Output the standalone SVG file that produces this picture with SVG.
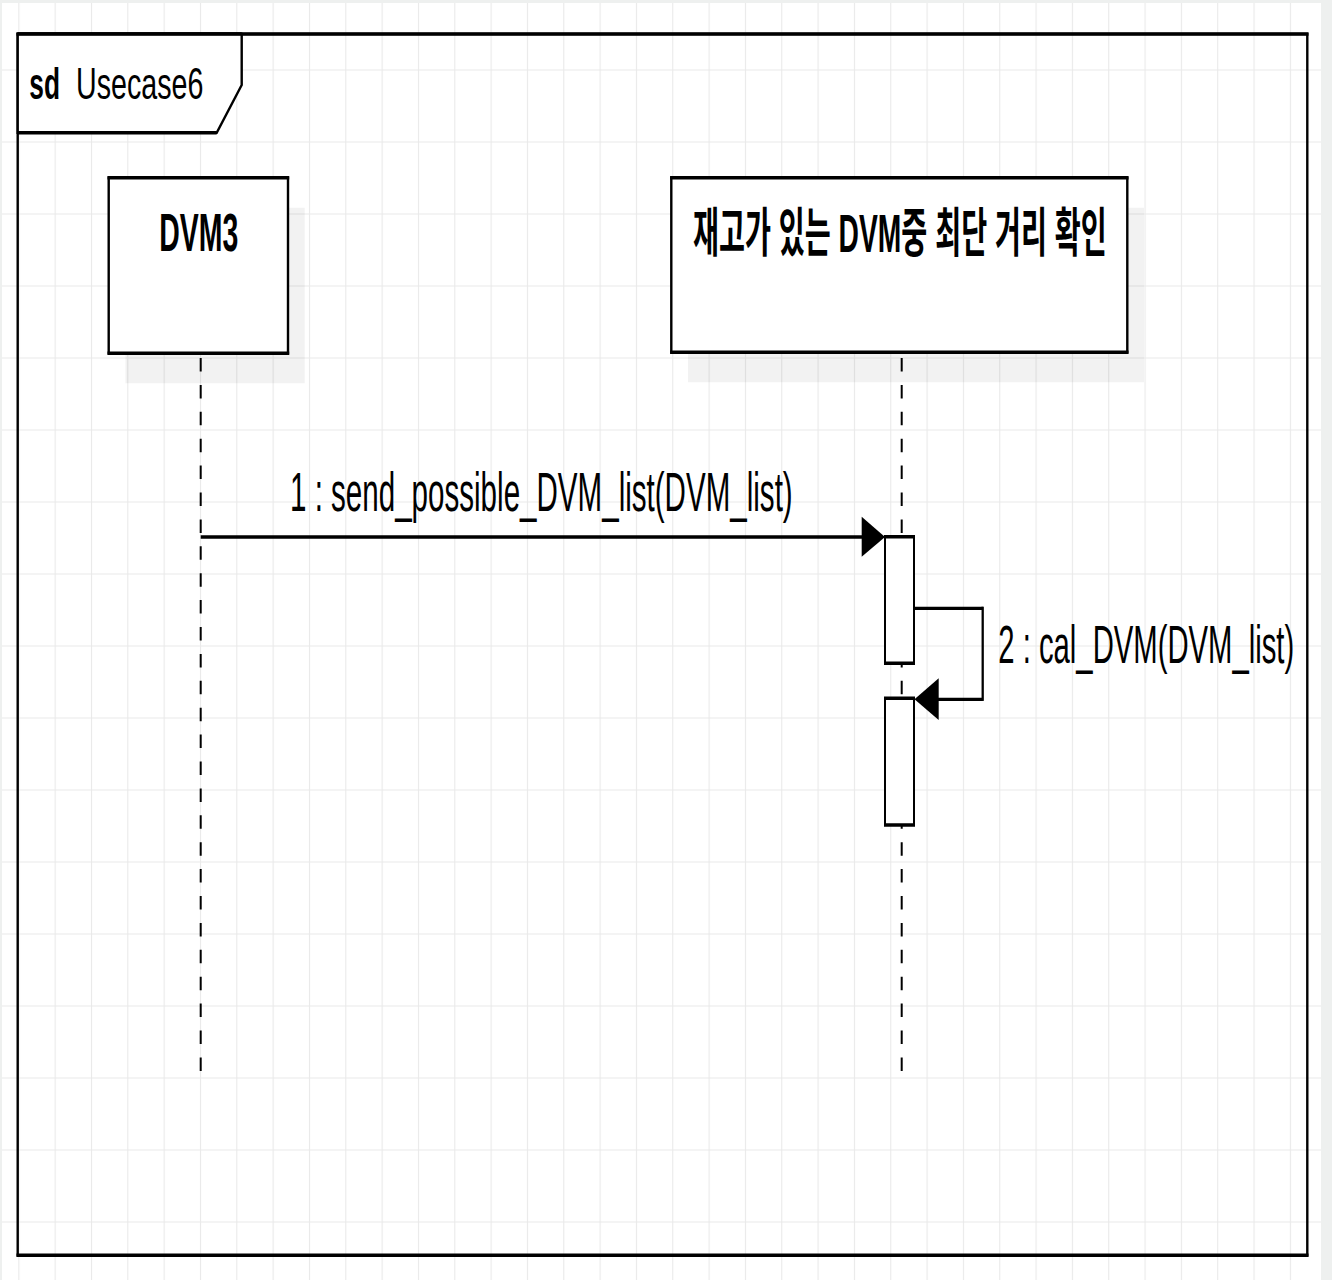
<svg xmlns="http://www.w3.org/2000/svg" width="1332" height="1280" viewBox="0 0 1332 1280">
  <defs>
    <pattern id="grid" patternUnits="userSpaceOnUse" x="18.3" y="69.5" width="36.33" height="72">
      <path d="M0.5,0 V72 M0,0.5 H36.33" fill="none" stroke="#e9e9e9" stroke-width="1.2"/>
    </pattern>
    <style>
      .lbl { font-family: "Liberation Sans", "Noto Sans CJK KR", sans-serif; fill: #000; }
      .bold { font-weight: bold; }
      .box { fill: #fff; stroke: #000; stroke-width: 2.4; }
      .hedge { stroke: #000; stroke-width: 3.6; fill: none; }
      .shadow { fill: #000; fill-opacity: 0.05; }
      .life { stroke: #000; stroke-width: 2; stroke-dasharray: 13.5 13.4; fill: none; }
      .msg { stroke: #000; fill: none; }
    </style>
  </defs>

  <!-- page background -->
  <rect x="0" y="0" width="1332" height="1280" fill="#eef0ef"/>
  <rect x="2" y="3" width="1319" height="1277" fill="#ffffff"/>
  <rect x="2" y="3" width="1319" height="1277" fill="url(#grid)"/>

  <!-- frame -->
  <g id="frame">
    <rect x="17.7" y="34" width="1289.6" height="1221.3" fill="none" stroke="#000" stroke-width="2.4"/>
    <path class="hedge" d="M16.5,34 H1308.5 M16.5,1255.3 H1308.5" stroke-width="4"/>
    <path d="M17.7,34 H241.7 V85 L216.7,132.7 H17.7 Z" fill="#fff" stroke="#000" stroke-width="2.4"/>
    <path class="hedge" d="M17.7,34 H241.7 M216.7,132.7 H17.7" stroke-width="4"/>
    <text class="lbl bold" font-size="44" transform="translate(29.3,98.5) scale(0.598,1)">sd</text>
    <text class="lbl" font-size="44" transform="translate(76,98.5) scale(0.651,1)">Usecase6</text>
  </g>

  <!-- lifeline DVM3 -->
  <g id="node-dvm3">
    <rect class="shadow" x="125.4" y="207.7" width="179.3" height="175.6"/>
    <rect class="box" x="108.7" y="177.7" width="179.3" height="175.6"/>
    <path class="hedge" d="M107.5,177.7 H289.2 M107.5,353.3 H289.2"/>
    <text class="lbl bold" font-size="53" transform="translate(159.3,251) scale(0.537,1)">DVM3</text>
  </g>

  <!-- lifeline shortest distance -->
  <g id="node-check">
    <rect class="shadow" x="688" y="207.7" width="456" height="174.6"/>
    <rect class="box" x="671.3" y="177.7" width="456" height="174.6"/>
    <path class="hedge" d="M670.1,177.7 H1128.5 M670.1,352.3 H1128.5"/>
    <text class="lbl bold" font-size="53" transform="translate(693,252) scale(0.533,1)">재고가 있는 DVM중 최단 거리 확인</text>
  </g>

  <!-- connectors -->
  <g id="connectors">
    <line class="life" x1="200.7" y1="358" x2="200.7" y2="1072"/>
    <line class="life" x1="901.7" y1="358" x2="901.7" y2="1072"/>

    <!-- activation bars -->
    <g id="activation-1">
      <rect x="885" y="536.7" width="29" height="126.6" fill="#fff" stroke="#000" stroke-width="2"/>
      <path class="hedge" d="M884,536.7 H915 M884,663.3 H915" stroke-width="2.8"/>
    </g>
    <g id="activation-2">
      <rect x="885" y="698.3" width="29" height="126.7" fill="#fff" stroke="#000" stroke-width="2"/>
      <path class="hedge" d="M884,698.3 H915 M884,825 H915" stroke-width="2.8"/>
    </g>

    <!-- message 1 -->
    <line class="msg" x1="200.7" y1="537" x2="864" y2="537" stroke-width="3.3"/>
    <polygon points="861.7,516.7 885,537 861.7,556.7" fill="#000"/>
    <text class="lbl" font-size="56" transform="translate(290,511) scale(0.528,1)">1 : send_possible_DVM_list(DVM_list)</text>

    <!-- message 2 (self) -->
    <path class="msg" d="M914,608.3 H982.7" stroke-width="3.3"/>
    <path class="msg" d="M982.7,606.7 V700.9" stroke-width="2.3"/>
    <path class="msg" d="M982.7,699.3 H936" stroke-width="3.3"/>
    <polygon points="938.7,678.3 914.5,699.3 938.7,720" fill="#000"/>
    <text class="lbl" font-size="54" transform="translate(998.3,663.3) scale(0.542,1)">2 : cal_DVM(DVM_list)</text>
  </g>
</svg>
